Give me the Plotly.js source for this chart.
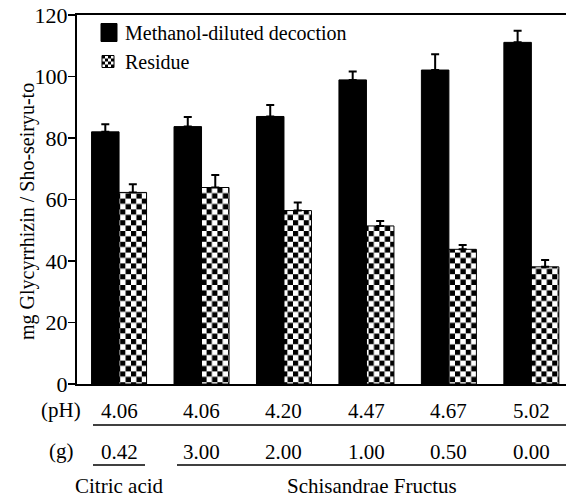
<!DOCTYPE html>
<html>
<head>
<meta charset="utf-8">
<script src="https://cdn.plot.ly/plotly-3.0.1.min.js"></script>
<style>
  html, body { margin: 0; padding: 0; background: #fff; }
  #chart { width: 566px; height: 497px; }
</style>
</head>
<body>
<div id="chart"></div>
<script>
// ---- data ----
const groupIndex = [0, 1, 2, 3, 4, 5];
const methanolValues = [82.0, 83.7, 87.0, 98.9, 102.1, 111.1];
const methanolErrors = [2.5, 3.1, 3.7, 2.7, 5.1, 3.8];
const residueValues = [62.3, 63.9, 56.4, 51.4, 43.8, 38.1];
const residueErrors = [2.7, 4.1, 2.6, 1.6, 1.4, 2.2];
const phLabels = ['4.06', '4.06', '4.20', '4.47', '4.67', '5.02'];
const gramLabels = ['0.42', '3.00', '2.00', '1.00', '0.50', '0.00'];
const seriesNames = ['Methanol-diluted decoction', 'Residue'];
const yTicks = [0, 20, 40, 60, 80, 100, 120];

// ---- layout helpers (pixel -> paper) ----
const W = 566, H = 497;
const ML = 77, MR = 0, MT = 15, MB = 113;
const PW = W - ML - MR, PH = H - MT - MB;
const px = x => (x - ML) / PW;
const py = y => (H - MB - y) / PH;
const FONT = '"Liberation Serif", "DejaVu Serif", serif';

const zeros = groupIndex.map(() => 0);

const traces = [
  {
    type: 'bar', name: seriesNames[0], x: groupIndex, y: methanolValues,
    marker: { color: '#000', line: { color: '#000', width: 1 } },
    error_y: { type: 'data', symmetric: false, array: methanolErrors, arrayminus: zeros,
               color: '#000', thickness: 2, width: 4 },
    hoverinfo: 'skip'
  },
  {
    type: 'bar', name: seriesNames[1], x: groupIndex, y: residueValues,
    marker: { color: '#fff', line: { color: '#000', width: 1 } },
    error_y: { type: 'data', symmetric: false, array: residueErrors, arrayminus: zeros,
               color: '#000', thickness: 2, width: 4 },
    hoverinfo: 'skip'
  }
];

const txtFont = { family: FONT, size: 21, color: '#000' };
const annotations = [];
groupIndex.forEach((gi, i) => {
  annotations.push({ xref: 'x', yref: 'paper', x: gi, y: py(411), text: phLabels[i],
    showarrow: false, xanchor: 'center', yanchor: 'middle', font: txtFont, borderpad: 0 });
  annotations.push({ xref: 'x', yref: 'paper', x: gi, y: py(452), text: gramLabels[i],
    showarrow: false, xanchor: 'center', yanchor: 'middle', font: txtFont, borderpad: 0 });
});
annotations.push({ xref: 'paper', yref: 'paper', x: px(61), y: py(410), text: '(pH)', showarrow: false,
  xanchor: 'center', yanchor: 'middle', font: txtFont, borderpad: 0 });
annotations.push({ xref: 'paper', yref: 'paper', x: px(61), y: py(451), text: '(g)', showarrow: false,
  xanchor: 'center', yanchor: 'middle', font: txtFont, borderpad: 0 });
annotations.push({ xref: 'x', yref: 'paper', x: groupIndex[0], y: py(486), text: 'Citric acid', showarrow: false,
  xanchor: 'center', yanchor: 'middle', font: txtFont, borderpad: 0 });
annotations.push({ xref: 'paper', yref: 'paper', x: px(372), y: py(486), text: 'Schisandrae Fructus', showarrow: false,
  xanchor: 'center', yanchor: 'middle', font: txtFont, borderpad: 0 });
annotations.push({ xref: 'paper', yref: 'paper', x: px(27), y: py(212), text: 'mg Glycyrrhizin / Sho-seiryu-to',
  textangle: -90, showarrow: false, xanchor: 'center', yanchor: 'middle',
  font: { family: FONT, size: 20, color: '#000' } });

const lineStyle = { color: '#000', width: 1.5 };
const shapes = [
  { type: 'line', xref: 'paper', yref: 'paper', x0: px(93), x1: px(566), y0: py(425), y1: py(425), line: lineStyle },
  { type: 'line', xref: 'paper', yref: 'paper', x0: px(93), x1: px(145), y0: py(465), y1: py(465), line: lineStyle },
  { type: 'line', xref: 'paper', yref: 'paper', x0: px(177), x1: px(566), y0: py(465), y1: py(465), line: lineStyle }
];

const layout = {
  width: W, height: H,
  margin: { l: ML, r: MR, t: MT, b: MB, pad: 0 },
  paper_bgcolor: '#fff', plot_bgcolor: '#fff',
  barmode: 'group', bargap: 0.333, bargroupgap: 0,
  font: { family: FONT, color: '#000' },
  showlegend: true,
  legend: { x: px(85), y: py(13), xanchor: 'left', yanchor: 'top', bgcolor: 'rgba(0,0,0,0)',
            font: { family: FONT, size: 20, color: '#000' }, tracegroupgap: 0 },
  xaxis: { range: [-0.51, 5.42], showticklabels: false, ticks: '', showgrid: false, zeroline: false,
           showline: true, mirror: true, linecolor: '#000', linewidth: 2, fixedrange: true },
  yaxis: { range: [0, 120], tickvals: yTicks, ticks: 'outside', ticklen: 7, tickwidth: 1.5, tickcolor: '#000',
           ticklabelstandoff: -4,
           showgrid: false, zeroline: false, showline: true, linecolor: '#000', linewidth: 2,
           tickfont: { family: FONT, size: 22, color: '#000' }, fixedrange: true },
  annotations: annotations,
  shapes: shapes
};

Plotly.newPlot('chart', traces, layout, { staticPlot: true, displayModeBar: false }).then(gd => {
  const svgNS = 'http://www.w3.org/2000/svg';
  const svg = gd.querySelector('svg.main-svg');
  let defs = svg.querySelector('defs');
  if (!defs) { defs = document.createElementNS(svgNS, 'defs'); svg.insertBefore(defs, svg.firstChild); }
  const s = 5.4;
  const pat = document.createElementNS(svgNS, 'pattern');
  pat.setAttribute('id', 'checker');
  pat.setAttribute('patternUnits', 'userSpaceOnUse');
  pat.setAttribute('width', 2 * s);
  pat.setAttribute('height', 2 * s);
  const mk = (x, y, c) => {
    const r = document.createElementNS(svgNS, 'rect');
    r.setAttribute('x', x); r.setAttribute('y', y);
    r.setAttribute('width', s); r.setAttribute('height', s);
    r.setAttribute('fill', c);
    return r;
  };
  pat.appendChild(mk(0, 0, '#000'));
  pat.appendChild(mk(s, 0, '#fff'));
  pat.appendChild(mk(0, s, '#fff'));
  pat.appendChild(mk(s, s, '#000'));
  defs.appendChild(pat);
  const pat2 = pat.cloneNode(true);
  pat2.setAttribute('id', 'checkerLegend');
  pat2.setAttribute('patternUnits', 'objectBoundingBox');
  pat2.setAttribute('width', 0.5);
  pat2.setAttribute('height', 0.5);
  pat2.setAttribute('patternContentUnits', 'objectBoundingBox');
  const h = 0.25;
  pat2.querySelectorAll('rect').forEach((r, k) => {
    r.setAttribute('x', (k % 2) * h); r.setAttribute('y', Math.floor(k / 2) * h);
    r.setAttribute('width', h); r.setAttribute('height', h);
  });
  defs.appendChild(pat2);
  const barTraces = gd.querySelectorAll('.barlayer .trace');
  if (barTraces[1]) barTraces[1].querySelectorAll('.point path').forEach(p => { p.style.fill = 'url(#checker)'; });
  const legItems = gd.querySelectorAll('.legend .traces');
  if (legItems[0]) legItems[0].querySelectorAll('.legendpoints path').forEach(p => {
    p.setAttribute('d', 'M12,9H-4V-9H12Z');
  });
  if (legItems[1]) legItems[1].querySelectorAll('.legendpoints path').forEach(p => {
    p.setAttribute('d', 'M9,6H-3V-6H9Z');
    p.style.fill = 'url(#checkerLegend)';
    p.style.strokeWidth = '1px';
    p.style.stroke = '#000';
  });
});
</script>
</body>
</html>
